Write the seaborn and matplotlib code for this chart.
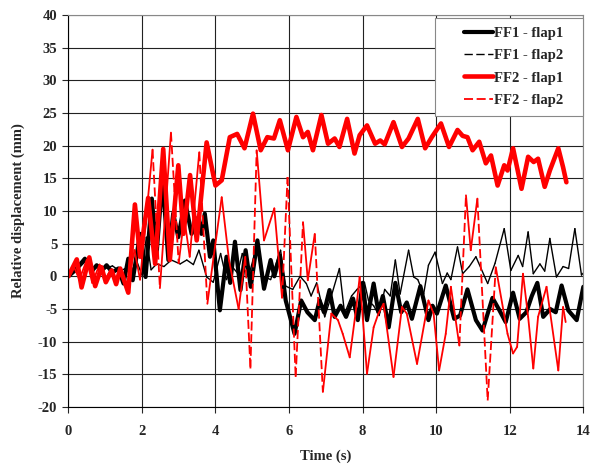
import numpy as np
import pandas as pd
import matplotlib.pyplot as plt
from matplotlib.lines import Line2D
from matplotlib.legend_handler import HandlerLine2D
import seaborn as sns

# values (time in s, displacement in mm)
t_ff1_flap1 = [0.0, 0.2, 0.45, 0.64, 0.77, 0.9, 1.04, 1.2, 1.36, 1.5, 1.63, 1.75, 1.95, 2.1,
               2.27, 2.4, 2.56, 2.72, 2.85, 2.99, 3.17, 3.35, 3.53, 3.62, 3.71, 3.85, 3.94,
               4.12, 4.3, 4.4, 4.53, 4.68, 4.82, 4.96, 5.14, 5.32, 5.5, 5.6, 5.75, 5.91, 6.15,
               6.33, 6.5, 6.7, 6.83, 6.95, 7.1, 7.24, 7.4, 7.55, 7.74, 7.87, 8.0, 8.12, 8.3,
               8.43, 8.55, 8.71, 8.89, 9.05, 9.2, 9.34, 9.57, 9.79, 9.9, 10.02, 10.26, 10.49,
               10.65, 10.85, 11.08, 11.26, 11.53, 11.7, 11.89, 12.09, 12.27, 12.45, 12.6,
               12.75, 12.91, 13.1, 13.25, 13.41, 13.59, 13.82, 14.0]
v_ff1_flap1 = [0.0, 1.0, 2.7, 0.8, 1.7, 0.8, 1.7, 0.6, 1.2, -1.1, 2.7, -0.6, 6.5, -0.1,
               11.9, 3.5, 15.0, 2.5, 9.6, 6.0, 11.6, 6.5, 9.0, 6.5, 9.6, 3.0, 5.5,
               -5.2, 3.0, -1.0, 5.3, -2.1, 4.0, -1.6, 5.5, -1.9, 2.5, 0.0, 3.2, -3.7, -8.8,
               -3.7, -5.5, -6.7, -3.7, -5.5, -2.1, -6.2, -4.5, -6.2, -3.4, -6.7, -1.0, -6.7, -1.1,
               -5.5, -3.0, -7.8, -1.0, -5.5, -4.0, -6.5, -1.5, -6.7, -4.5, -5.7, -1.4, -6.5,
               -6.0, -2.0, -6.7, -8.3, -3.3, -5.0, -7.0, -2.5, -6.5, -5.5, -3.0,
               -1.0, -6.2, -5.0, -5.5, -1.4, -5.2, -6.7, -1.6]

t_ff1_flap2 = [0.0, 0.2, 0.45, 0.6, 0.8, 1.0, 1.2, 1.4, 1.55, 1.7, 1.85, 2.0, 2.12, 2.25, 2.4,
               2.6, 2.8, 3.04, 3.22, 3.4, 3.55, 3.76, 3.94, 4.14, 4.3, 4.45, 4.6, 4.73, 4.9,
               5.14, 5.3, 5.5, 5.77, 5.91, 6.1, 6.3, 6.47, 6.6, 6.75, 6.97, 7.15, 7.37, 7.51,
               7.7, 7.85, 8.05, 8.16, 8.3, 8.45, 8.6, 8.75, 8.89, 9.02, 9.25, 9.39, 9.5, 9.66,
               9.79, 9.97, 10.17, 10.3, 10.4, 10.58, 10.72, 10.9, 11.08, 11.4, 11.6, 11.85,
               12.03, 12.23, 12.35, 12.5, 12.64, 12.82, 12.95, 13.09, 13.27, 13.45, 13.6,
               13.77, 13.95, 14.0]
v_ff1_flap2 = [0.0, 0.8, 2.2, 1.0, 1.8, 1.2, 1.6, 0.8, 1.2, 0.3, 2.5, 0.2, 6.0, 1.0, 1.9,
               1.5, 2.5, 1.9, 2.5, 1.8, 4.0, -0.1, -0.9, 3.5, -0.5, 1.5, 0.5, 3.5, 0.0,
               5.0, 0.0, -0.5, 4.0, -1.5, -2.0, 0.0, -1.1, -3.0, -1.0, -6.2, -3.0, 1.2, -5.7,
               -3.0, -2.0, -0.9, -3.7, -4.5, -6.0, -2.0, -3.0, 2.5, -2.7, 4.0, -0.1, -0.5, -2.7,
               1.7, 3.7, -1.1, 0.5, -0.5, 4.5, 0.4, 1.5, 3.0, -1.1, 2.0, 7.3,
               0.9, 3.2, 1.5, 6.8, 0.4, 1.9, 0.8, 5.8, -0.1, 1.5, 1.2,
               7.3, 0.2, 0.5]

t_ff2_flap1 = [0.0, 0.23, 0.36, 0.57, 0.73, 0.9, 1.02, 1.18, 1.3, 1.41, 1.63, 1.81, 1.95,
               2.17, 2.36, 2.58, 2.76, 2.99, 3.13, 3.31, 3.49, 3.76, 4.0, 4.17, 4.39, 4.59,
               4.79, 5.02, 5.23, 5.41, 5.59, 5.75, 5.97, 6.2, 6.38, 6.51, 6.65, 6.88, 7.06,
               7.24, 7.37, 7.58, 7.78, 7.92, 8.12, 8.34, 8.48, 8.6, 8.84, 9.07, 9.25, 9.5,
               9.7, 9.88, 10.13, 10.35, 10.58, 10.72, 10.85, 10.99, 11.17, 11.35, 11.49,
               11.67, 11.85, 11.94, 12.09, 12.32, 12.5, 12.65, 12.77, 12.95, 13.09, 13.32,
               13.45, 13.54]
v_ff2_flap1 = [0.0, 2.6, -1.7, 2.9, -1.5, 1.4, -0.9, 0.9, -1.2, 1.2, -2.5, 11.0, 3.0,
               12.0, 1.9, 19.5, 2.5, 17.0, 6.5, 15.5, 5.5, 20.5, 13.9, 14.7, 21.3, 21.8,
               19.6, 24.9, 19.3, 21.3, 21.1, 23.9, 19.3, 24.4, 21.3, 22.1, 19.3, 24.7, 20.3,
               21.1, 19.8, 24.1, 18.8, 21.6, 23.1, 20.3, 20.8, 20.2, 23.6, 19.8, 21.1, 24.1,
               19.6, 21.3, 23.4, 19.8, 22.4, 21.5, 21.3, 19.3, 20.6, 17.3, 18.5,
               13.9, 17.0, 16.2, 19.6, 13.4, 18.3, 17.5, 18.0, 13.7, 16.2, 19.6,
               16.7, 14.4]

t_ff2_flap2 = [0.0, 0.15, 0.3, 0.5, 0.65, 0.85, 1.0, 1.15, 1.3, 1.45, 1.6, 1.8, 1.95, 2.1,
               2.29, 2.49, 2.79, 3.0, 3.15, 3.3, 3.56, 3.78, 3.95, 4.17, 4.37, 4.63, 4.81,
               4.95, 5.12, 5.32, 5.6, 5.81, 5.96, 6.18, 6.38, 6.51, 6.7, 6.92, 7.15, 7.33,
               7.46, 7.65, 7.83, 7.92, 8.12, 8.3, 8.43, 8.57, 8.84, 9.07, 9.2, 9.48, 9.79,
               9.93, 10.08, 10.26, 10.4, 10.63, 10.81, 10.94, 11.12, 11.4, 11.62, 11.94,
               12.09, 12.2, 12.36, 12.5, 12.64, 12.77, 13.0, 13.32, 13.45, 13.52]
v_ff2_flap2 = [0.0, 1.5, -0.5, 2.5, -1.0, 1.8, -0.5, 1.0, -0.8, 0.8, -1.5, 4.0, -0.5, 8.0,
               19.4, -1.8, 22.0, 2.0, 9.0, 3.0, 19.0, -4.2, 3.0, 12.1, 2.4, -5.0, 3.0,
               -14.1, 19.3, 5.5, 10.4, -3.3, 15.2, -15.4, 8.3, -0.6, 6.5, -17.7, -5.7, -6.7,
               -8.8, -12.4, -4.7, -0.1, -14.9, -7.8, -5.7, -4.2, -15.4, -4.7, -5.7, -13.4, -3.7,
               -5.7, -14.4, -8.8, -1.6, -10.6, 12.4, 4.0, 11.9, -19.0, 1.4, -8.8,
               -11.8, -10.8, 0.4, -6.2, -14.1, -6.2, -1.6, -14.4, -4.7, -7.0]


def segments(t, v, limit=90):
    # one unit per segment so the dash pattern restarts on every step, as in the source
    rows = []
    for i in range(len(t) - 1):
        steep = abs(v[i + 1] - v[i]) / (t[i + 1] - t[i]) > limit
        rows.append((t[i], v[i], i, steep))
        rows.append((t[i + 1], v[i + 1], i, steep))
    return pd.DataFrame(rows, columns=['t', 'v', 'seg', 'steep'])


sns.set_style('ticks')
plt.rcParams['font.family'] = ['Liberation Serif', 'DejaVu Serif']
plt.rcParams['font.weight'] = 'bold'
plt.rcParams['axes.unicode_minus'] = False

fig = plt.figure(figsize=(5.91, 4.66), dpi=100)
ax = fig.add_axes([0.1156, 0.1266, 0.8714, 0.8412])

df1 = pd.DataFrame({'t': t_ff1_flap1, 'v': v_ff1_flap1})
sns.lineplot(data=df1, x='t', y='v', color='black', lw=3.0, sort=False,
             estimator=None, ax=ax, legend=False)

df2 = segments(t_ff1_flap2, v_ff1_flap2)
sns.lineplot(data=df2, x='t', y='v', units='seg', style='steep', estimator=None,
             dashes={False: '', True: (6, 2.5)}, style_order=[False, True],
             color='black', lw=1.0, ax=ax, legend=False)

df3 = pd.DataFrame({'t': t_ff2_flap1, 'v': v_ff2_flap1})
sns.lineplot(data=df3, x='t', y='v', color='red', lw=3.3, sort=False,
             estimator=None, ax=ax, legend=False)

df4 = segments(t_ff2_flap2, v_ff2_flap2)
sns.lineplot(data=df4, x='t', y='v', units='seg', style='steep', estimator=None,
             dashes={False: '', True: (5, 2)}, style_order=[False, True],
             color='red', lw=1.3, ax=ax, legend=False)

ax.set_xlim(0, 14)
ax.set_ylim(-20, 40)
ax.set_xticks(np.arange(0, 15, 2))
ax.set_yticks(np.arange(-20, 41, 5))
ax.grid(True, color='#222222', lw=0.8)
ax.set_axisbelow(True)
for side in ['top', 'right']:
    ax.spines[side].set_color('#888888')
for side in ['left', 'bottom']:
    ax.spines[side].set_color('black')
ax.tick_params(direction='out', length=4, width=0.8, labelsize=10.5)
ax.tick_params(axis='x', pad=9)
ax.tick_params(axis='y', pad=4)
for lab in ax.get_xticklabels() + ax.get_yticklabels():
    lab.set_fontweight('bold')
ax.set_xlabel('Time (s)', fontsize=10.5, fontweight='bold', labelpad=8)
ax.set_ylabel('Relative displacement (mm)', fontsize=10.5, fontweight='bold', labelpad=9)

handles = [Line2D([], [], color='black', lw=3.0),
           Line2D([], [], color='black', lw=1.0, dashes=(6, 2.5)),
           Line2D([], [], color='red', lw=3.3),
           Line2D([], [], color='red', lw=1.3, dashes=(5, 2))]
labels = ['FF1 - flap1   ', 'FF1 - flap2   ', 'FF2 - flap1   ', 'FF2 - flap2   ']
leg = ax.legend(handles, labels, loc='upper right', bbox_to_anchor=(1.0, 0.992),
                borderaxespad=0, fancybox=False, framealpha=1, edgecolor='#888888',
                handlelength=3.4, handletextpad=0.1, labelspacing=0.62, borderpad=0.6,
                prop={'weight': 'bold', 'size': 10.5},
                handler_map={Line2D: HandlerLine2D(xpad=1.4)})
leg.get_frame().set_linewidth(0.8)

fig.savefig('out.png', dpi=100, facecolor='white')
